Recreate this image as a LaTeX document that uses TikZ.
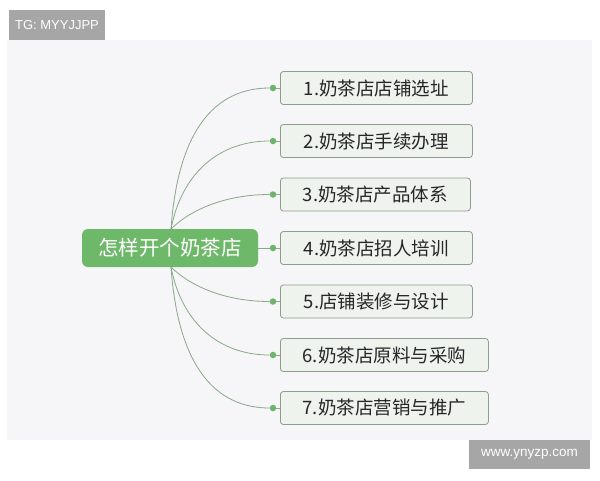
\documentclass[tikz,border=0pt]{standalone}
\usepackage{fontspec}
\setmainfont{Noto Sans CJK SC}
\newfontfamily\latinsans{Liberation Sans}
\definecolor{bgc}{HTML}{F6F5F7}
\definecolor{maingreen}{HTML}{6EB86A}
\definecolor{boxfill}{HTML}{EEF3EE}
\definecolor{boxline}{HTML}{8E9E8E}
\definecolor{linkc}{HTML}{8AA88A}
\definecolor{dotc}{HTML}{6DB56D}
\definecolor{tagc}{HTML}{A6A6A6}
\begin{document}
\begin{tikzpicture}[x=1pt,y=-1pt,
  mainbox/.style={fill=maingreen, rounded corners=6pt, minimum width=176pt, minimum height=38pt, inner sep=0pt, text=white, font=\fontsize{20.5}{22}\selectfont},
  branch/.style={draw=boxline, line width=0.8pt, fill=boxfill, rounded corners=3pt, minimum height=33pt, inner sep=0pt, anchor=west, text=black!85, font=\fontsize{18.5}{21}\selectfont},
  dot/.style={circle, fill=dotc, inner sep=0pt, minimum size=6.5pt},
  link/.style={draw=linkc, line width=0.8pt},
  tag/.style={fill=tagc, text=white, inner sep=0pt, font=\latinsans}]
\useasboundingbox (0,0) rectangle (600,480);
\fill[white] (0,0) rectangle (600,480);
\fill[bgc] (7,40) rectangle (592,440);
\node[tag, minimum width=96pt, minimum height=30pt, font=\latinsans\fontsize{13}{15}\selectfont] (tg) at (57,25) {TG: MYYJJPP};
\node[tag, minimum width=121pt, minimum height=29pt, font=\latinsans\fontsize{13.5}{15}\selectfont] (www) at (529.5,454.5) {www.ynyzp.com};
\node[mainbox] (main) at (170,248) {怎样开个奶茶店};
\node[branch, minimum width=192pt] (b1) at (280,88) {1.奶茶店店铺选址};
\node[branch, minimum width=192pt] (b2) at (280,141) {2.奶茶店手续办理};
\node[branch, minimum width=190pt] (b3) at (280,194.5) {3.奶茶店产品体系};
\node[branch, minimum width=192pt] (b4) at (280,248) {4.奶茶店招人培训};
\node[branch, minimum width=192pt] (b5) at (280,301.5) {5.店铺装修与设计};
\node[branch, minimum width=208pt] (b6) at (280,355) {6.奶茶店原料与采购};
\node[branch, minimum width=208pt] (b7) at (280,408) {7.奶茶店营销与推广};
\foreach \i/\y in {1/88,2/141,3/194.5,4/248,5/301.5,6/355,7/408}{
  \node[dot] (d\i) at (273,\y) {};
  \draw[link] (d\i) -- (b\i);
}
\coordinate (mt) at (171,229);
\coordinate (mb) at (171,267);
\draw[link] (mt) .. controls (178,130) and (215,88) .. (d1);
\draw[link] (mt) .. controls (182,172) and (220,141) .. (d2);
\draw[link] (mt) .. controls (190,210) and (225,194.5) .. (d3);
\draw[link] (main.east) -- (d4);
\draw[link] (mb) .. controls (190,286) and (225,301.5) .. (d5);
\draw[link] (mb) .. controls (182,324) and (220,355) .. (d6);
\draw[link] (mb) .. controls (178,366) and (215,408) .. (d7);
\end{tikzpicture}
\end{document}
